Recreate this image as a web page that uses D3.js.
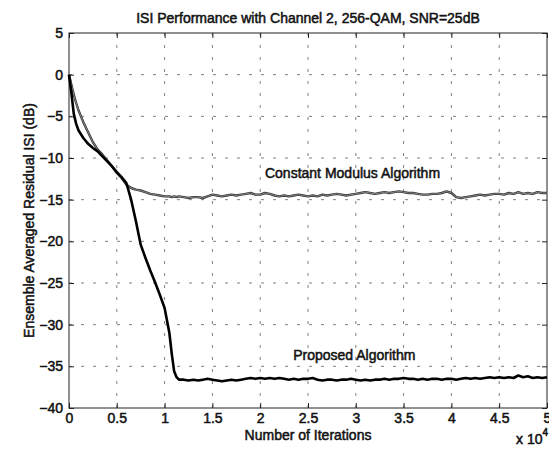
<!DOCTYPE html>
<html>
<head>
<meta charset="utf-8">
<script src="https://cdn.jsdelivr.net/npm/d3@7"></script>
<style>
  html, body { margin: 0; padding: 0; background: #fff; }
  svg { display: block; }
  text { font-family: "Liberation Sans", Arial, Helvetica, sans-serif; fill: #111; }
</style>
</head>
<body>
<svg id="chart" width="549" height="452"></svg>
<script>
// Sample points (iteration index) shared by both learning curves
const iterations = [
  0, 250, 500, 750, 1000, 1500, 2000, 2500, 3000, 3500, 4000, 4500, 5000, 5500,
  6000, 6500, 7000, 7500, 8000, 8500, 9000, 9500, 10000, 10500, 10750, 11000, 11250, 11500,
  12000, 12500, 13000, 13500, 14000, 14500, 15000, 15500, 16000, 16500, 17000, 17500,
  18000, 18500, 19000, 19500, 20000, 20500, 21000, 21500, 22000, 22500, 23000, 23500,
  24000, 24500, 25000, 25500, 26000, 26500, 27000, 27500, 28000, 28500, 29000, 29500,
  30000, 30500, 31000, 31500, 32000, 32500, 33000, 33500, 34000, 34500, 35000, 35500,
  36000, 36500, 37000, 37500, 38000, 38500, 39000, 39500, 40000, 40500, 41000, 41500,
  42000, 42500, 43000, 43500, 44000, 44500, 45000, 45500, 46000, 46500, 47000, 47500,
  48000, 48500, 49000, 49500, 50000
];

// Residual ISI (dB), constant modulus algorithm
const cmaISI = [
  0, -1.2, -2.4, -3.4, -4.3, -5.7, -6.9, -8.1, -9.0, -9.6, -10.3, -11.0, -11.8, -12.4,
  -13.2, -13.6, -13.8, -13.9, -14.1, -14.3, -14.4, -14.5, -14.6, -14.6, -14.7, -14.6, -14.7, -14.6,
  -14.7, -14.8, -14.7, -14.7, -14.8, -14.6, -14.4, -14.5, -14.6, -14.5, -14.4, -14.5,
  -14.4, -14.3, -14.2, -14.4, -14.4, -14.2, -14.3, -14.5, -14.6, -14.5, -14.6, -14.5,
  -14.4, -14.5, -14.6, -14.5, -14.6, -14.4, -14.5, -14.4, -14.3, -14.4, -14.5, -14.4,
  -14.3, -14.2, -14.1, -14.2, -14.3, -14.2, -14.1, -14.2, -14.1, -14.0, -14.1, -14.2,
  -14.2, -14.3, -14.4, -14.4, -14.3, -14.3, -14.2, -14.0, -14.2, -14.7, -14.8, -14.7,
  -14.6, -14.5, -14.4, -14.5, -14.4, -14.3, -14.3, -14.4, -14.2, -14.3, -14.1, -14.3,
  -14.2, -14.3, -14.1, -14.2, -14.2
];

// Residual ISI (dB), proposed algorithm
const proposedISI = [
  0, -2.2, -4.7, -5.9, -6.7, -7.6, -8.3, -8.8, -9.2, -9.8, -10.4, -11.0, -11.7, -12.3,
  -13.0, -15.0, -17.6, -20.4, -22.0, -23.5, -24.9, -26.4, -28.0, -31.0, -33.5, -35.6, -36.3, -36.6,
  -36.6, -36.7, -36.6, -36.7, -36.6, -36.5, -36.6, -36.7, -36.8, -36.7, -36.6, -36.7,
  -36.6, -36.5, -36.4, -36.5, -36.4, -36.5, -36.4, -36.5, -36.4, -36.5, -36.6, -36.5,
  -36.6, -36.5, -36.5, -36.4, -36.6, -36.7, -36.6, -36.6, -36.7, -36.6, -36.6, -36.5,
  -36.6, -36.7, -36.6, -36.7, -36.6, -36.6, -36.5, -36.6, -36.5, -36.5, -36.4, -36.5,
  -36.5, -36.6, -36.5, -36.6, -36.5, -36.5, -36.6, -36.5, -36.5, -36.6, -36.5, -36.4,
  -36.5, -36.4, -36.5, -36.4, -36.3, -36.4, -36.3, -36.4, -36.3, -36.4, -36.1, -36.3,
  -36.2, -36.4, -36.3, -36.4, -36.3
];

const xTicks = [0, 5000, 10000, 15000, 20000, 25000, 30000, 35000, 40000, 45000, 50000];
const xTickLabels = ["0", "0.5", "1", "1.5", "2", "2.5", "3", "3.5", "4", "4.5", "5"];
const yTicks = [5, 0, -5, -10, -15, -20, -25, -30, -35, -40];

const titleText = "ISI Performance with Channel 2, 256-QAM, SNR=25dB";
const xLabelText = "Number of Iterations";
const yLabelText = "Ensemble Averaged Residual ISI (dB)";
const cmaLabel = "Constant Modulus Algorithm";
const proposedLabel = "Proposed Algorithm";

const W = 549, H = 452;
const margin = { top: 33, right: 2, bottom: 44, left: 69 };
const iw = W - margin.left - margin.right;
const ih = H - margin.top - margin.bottom;

const svg = d3.select("#chart");
const g = svg.append("g").attr("transform", `translate(${margin.left},${margin.top})`);

const x = d3.scaleLinear().domain([0, 50000]).range([0, iw]);
const y = d3.scaleLinear().domain([-40, 5]).range([ih, 0]);

// dotted grid
const grid = g.append("g").attr("class", "grid");
grid.selectAll("line.gx").data(xTicks.slice(1, -1)).join("line")
  .attr("x1", d => x(d)).attr("x2", d => x(d))
  .attr("y1", 0).attr("y2", ih)
  .attr("stroke", "#808080").attr("stroke-width", 1)
  .attr("stroke-dasharray", "3,9");
grid.selectAll("line.gy").data(yTicks.slice(1, -1)).join("line")
  .attr("x1", 0).attr("x2", iw)
  .attr("y1", d => y(d)).attr("y2", d => y(d))
  .attr("stroke", "#808080").attr("stroke-width", 1)
  .attr("stroke-dasharray", "3,9");

// axes with inward ticks on all four sides
const fmtX = (d) => xTickLabels[xTicks.indexOf(d)];
const heavy = sel => sel.attr("fill", "#111").attr("stroke", "#111").attr("stroke-width", 0.5);
const axisStyle = sel => {
  sel.select(".domain").remove();
  sel.selectAll(".tick line").attr("stroke", "#222");
  sel.selectAll("text").style("font-size", "14px").call(heavy);
};
g.append("g").attr("transform", `translate(0,${ih})`)
  .call(d3.axisBottom(x).tickValues(xTicks).tickFormat(fmtX).tickSize(-5).tickPadding(5))
  .call(axisStyle);
g.append("g")
  .call(d3.axisTop(x).tickValues(xTicks).tickFormat("").tickSize(-5))
  .call(axisStyle);
g.append("g")
  .call(d3.axisLeft(y).tickValues(yTicks).tickFormat(d3.format("d")).tickSize(-5).tickPadding(6))
  .call(axisStyle);
g.append("g").attr("transform", `translate(${iw},0)`)
  .call(d3.axisRight(y).tickValues(yTicks).tickFormat("").tickSize(-5))
  .call(axisStyle);

// box
g.append("rect").attr("x", 0).attr("y", 0).attr("width", iw).attr("height", ih)
  .attr("fill", "none").attr("stroke", "#222").attr("stroke-width", 1);

// curves
const line = d3.line().x((d, i) => x(iterations[i])).y(d => y(d));
g.append("path").datum(cmaISI).attr("d", line)
  .attr("fill", "none").attr("stroke", "#333").attr("stroke-width", 2.4)
  .attr("stroke-linejoin", "round");
g.append("path").datum(cmaISI).attr("d", line)
  .attr("fill", "none").attr("stroke", "#9a9a9a").attr("stroke-width", 0.8)
  .attr("stroke-linejoin", "round");
g.append("path").datum(proposedISI).attr("d", line)
  .attr("fill", "none").attr("stroke", "#000").attr("stroke-width", 2.6)
  .attr("stroke-linejoin", "round");

// curve labels
g.append("text").attr("x", x(20500)).attr("y", y(-12.4))
  .style("font-size", "14px").text(cmaLabel).call(heavy);
g.append("text").attr("x", x(23450)).attr("y", y(-34.2))
  .style("font-size", "14px").text(proposedLabel).call(heavy);

// title and axis labels
svg.append("text").attr("x", margin.left + iw / 2).attr("y", 23)
  .attr("text-anchor", "middle").style("font-size", "14px").text(titleText).call(heavy);
svg.append("text").attr("x", margin.left + iw / 2).attr("y", 440)
  .attr("text-anchor", "middle").style("font-size", "14px").text(xLabelText).call(heavy);
svg.append("text").attr("transform", `translate(34,${margin.top + ih / 2}) rotate(-90)`)
  .attr("text-anchor", "middle").style("font-size", "14px").text(yLabelText).call(heavy);

// exponent of the x axis
const expo = svg.append("text").attr("x", 516).attr("y", 444).style("font-size", "14px").call(heavy);
expo.append("tspan").text("x 10");
expo.append("tspan").attr("dy", -8).style("font-size", "10px").text("4");
</script>
</body>
</html>
